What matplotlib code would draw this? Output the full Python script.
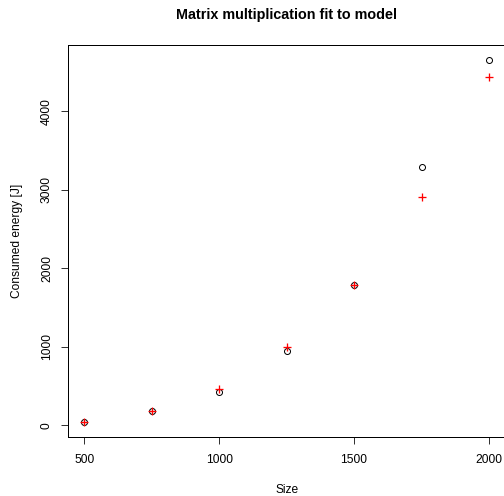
import matplotlib
matplotlib.use("Agg")
import matplotlib.pyplot as plt

# matrix sizes and measured / modelled energy (J)
sizes = [500, 750, 1000, 1250, 1500, 1750, 2000]
measured = [35, 180, 420, 950, 1780, 3295, 4658]
model = [35, 180, 465, 992, 1780, 2903, 4429]

plt.rcParams["font.family"] = ["Liberation Sans", "DejaVu Sans"]

W, H, DPI = 504, 496, 72
fig = plt.figure(figsize=(W / DPI, H / DPI), dpi=DPI)
ax = fig.add_axes([68 / W, (H - 437) / H, (505.2 - 68) / W, (437 - 45) / H])

ax.plot(sizes, measured, linestyle="none", marker="o", ms=6, mfc="none",
        mec="black", mew=1)
ax.plot(sizes, model, linestyle="none", marker="+", ms=8, color="red",
        mec="red", mew=1.3)

# R style 4% padding
xr = max(sizes) - min(sizes)
ax.set_xlim(min(sizes) - 0.04 * xr, max(sizes) + 0.04 * xr)
ylo = min(measured + model)
yhi = max(measured + model)
yr = yhi - ylo
ax.set_ylim(ylo - 0.04 * yr, yhi + 0.04 * yr)

ax.set_xticks([500, 1000, 1500, 2000])
ax.set_yticks([0, 1000, 2000, 3000, 4000])
ax.tick_params(direction="out", length=7, width=0.8, labelsize=12)
ax.tick_params(axis="x", pad=10)
ax.tick_params(axis="y", pad=8)
for lab in ax.get_yticklabels():
    lab.set_rotation(90)
    lab.set_va("center")

for sp in ax.spines.values():
    sp.set_linewidth(1)

ax.set_xlabel("Size", fontsize=12, labelpad=18)
ax.set_ylabel("Consumed energy [J]", fontsize=12, labelpad=18)
ax.set_title("Matrix multiplication fit to model", fontsize=14.4,
             fontweight="bold", pad=26)

fig.savefig("out.png", dpi=DPI)
